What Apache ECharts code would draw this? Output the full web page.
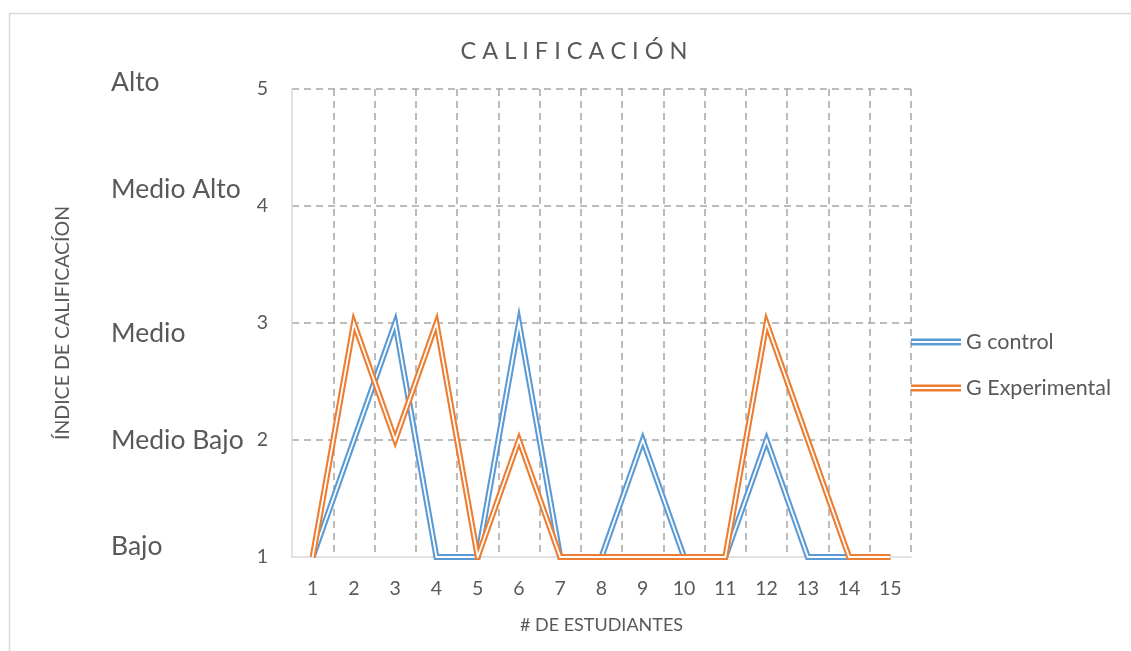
<!DOCTYPE html>
<html>
<head>
<meta charset="utf-8">
<script src="https://cdn.jsdelivr.net/npm/echarts@6/dist/echarts.min.js"></script>
<style>
  html, body { margin: 0; padding: 0; background: #ffffff; }
  #chart { width: 1131px; height: 651px; }
</style>
</head>
<body>
<div id="chart"></div>
<script>
// Students (x axis categories)
const students = ['1','2','3','4','5','6','7','8','9','10','11','12','13','14','15'];
// Grade index per student, scale 1 (Bajo) .. 5 (Alto)
const gControl      = [1, 2, 3, 1, 1, 3, 1, 1, 2, 1, 1, 2, 1, 1, 1];
const gExperimental = [1, 3, 2, 3, 1, 2, 1, 1, 1, 1, 1, 3, 2, 1, 1];
// Descriptive names for each level of the grade index
const levelNames = { 1: 'Bajo', 2: 'Medio Bajo', 3: 'Medio', 4: 'Medio Alto', 5: 'Alto' };

const FONT = 'Lato, "Open Sans", sans-serif';
const TEXT = '#595959';
const BLUE = '#5b9bd5';
const ORANGE = '#ed7d31';
const GRID = '#a6a6a6';
const LEVEL_SIZE = 26.5;

// A "double" stroke: a wide coloured line with a thin white line on top
function doubleLine(name, data, color, z) {
  return [
    {
      name: name, type: 'line', data: data, symbol: 'none', z: z,
      lineStyle: { color: color, width: 6, join: 'miter', miterLimit: 10 },
      itemStyle: { color: color }
    },
    {
      name: name + ' ', type: 'line', data: data, symbol: 'none', z: z + 1,
      lineStyle: { color: '#ffffff', width: 1.8, join: 'miter', miterLimit: 10 },
      tooltip: { show: false }
    }
  ];
}

function levelStyle(padding) {
  return { fontFamily: FONT, fontSize: LEVEL_SIZE, color: TEXT, padding: padding };
}

const chart = echarts.init(document.getElementById('chart'), null, { renderer: 'canvas' });

chart.setOption({
  animation: false,
  backgroundColor: '#ffffff',
  textStyle: { fontFamily: FONT },
  graphic: [{
    type: 'rect',
    shape: { x: 9.5, y: 13.5, width: 1200, height: 1000 },
    style: { fill: 'none', stroke: '#d9d9d9', lineWidth: 1.5 },
    silent: true, z: -10
  }],
  title: {
    text: 'C A L I F I C A C I Ó N',
    left: 569, top: 34, textAlign: 'center',
    textStyle: { fontFamily: FONT, fontSize: 23.5, fontWeight: 'normal', color: TEXT }
  },
  legend: {
    orient: 'vertical',
    left: 906, top: 326,
    itemGap: 24,
    itemWidth: 50, itemHeight: 7,
    icon: 'path://M0,0H50V2.5H0Z M0,4.5H50V7H0Z',
    textStyle: { fontFamily: FONT, fontSize: 21.5, color: TEXT },
    data: ['G control', 'G Experimental']
  },
  grid: { left: 292, right: 220, top: 89, bottom: 94, containLabel: false },
  xAxis: {
    type: 'category',
    data: students,
    boundaryGap: true,
    name: '# DE ESTUDIANTES',
    nameLocation: 'middle',
    nameGap: 59,
    nameTextStyle: { fontFamily: FONT, fontSize: 18, color: TEXT },
    axisLine: { lineStyle: { color: '#d9d9d9', width: 1.5 } },
    axisTick: { show: false },
    axisLabel: { margin: 22, fontFamily: FONT, fontSize: 19.5, color: TEXT },
    splitLine: {
      show: true, showMinLine: false,
      lineStyle: { color: GRID, width: 1.5, type: [7, 5] }
    }
  },
  yAxis: [
    {
      type: 'value', min: 1, max: 5, interval: 1,
      name: 'ÍNDICE DE CALIFICACÍON',
      nameLocation: 'middle',
      nameRotate: 90,
      nameGap: 219,
      nameTextStyle: { fontFamily: FONT, fontSize: 19.5, color: TEXT },
      axisLine: { show: true, lineStyle: { color: '#d9d9d9', width: 1.5 } },
      axisTick: { show: false },
      axisLabel: { margin: 24, fontFamily: FONT, fontSize: 19.5, color: TEXT },
      splitLine: {
        show: true, showMinLine: false,
        lineStyle: { color: GRID, width: 1.5, type: [7, 5] }
      }
    },
    {
      type: 'value', min: 1, max: 5, interval: 1,
      position: 'left',
      axisLine: { show: false },
      axisTick: { show: false },
      splitLine: { show: false },
      axisLabel: {
        margin: 181,
        align: 'left',
        fontFamily: FONT, fontSize: LEVEL_SIZE, color: TEXT,
        formatter: function (v) { return '{l' + v + '|' + levelNames[v] + '}'; },
        rich: {
          l1: levelStyle([0, 0, 22, 0]),
          l2: levelStyle([0, 0, 0, 0]),
          l3: levelStyle([20, 0, 0, 0]),
          l4: levelStyle([0, 0, 34, 0]),
          l5: levelStyle([0, 0, 14, 0])
        }
      }
    }
  ],
  series: [].concat(
    doubleLine('G control', gControl, BLUE, 2),
    doubleLine('G Experimental', gExperimental, ORANGE, 4)
  )
});
</script>
</body>
</html>
